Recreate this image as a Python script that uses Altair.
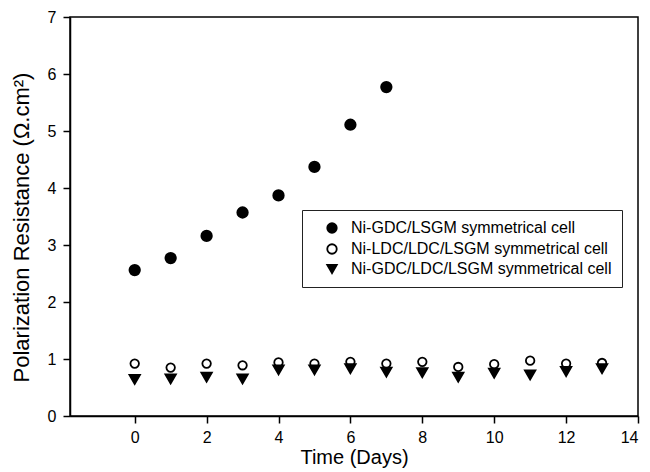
import altair as alt
import pandas as pd

series_names = [
    "Ni-GDC/LSGM symmetrical cell",
    "Ni-LDC/LDC/LSGM symmetrical cell",
    "Ni-GDC/LDC/LSGM symmetrical cell",
]

days_gdc = [0, 1, 2, 3, 4, 5, 6, 7]
res_gdc = [2.56, 2.77, 3.16, 3.57, 3.87, 4.37, 5.11, 5.77]

days_all = [0, 1, 2, 3, 4, 5, 6, 7, 8, 9, 10, 11, 12, 13]
res_ldc = [0.92, 0.85, 0.92, 0.89, 0.94, 0.92, 0.95, 0.92, 0.95, 0.86, 0.91, 0.97, 0.92, 0.93]
res_gdc_ldc = [0.64, 0.65, 0.68, 0.65, 0.81, 0.81, 0.83, 0.77, 0.76, 0.68, 0.75, 0.72, 0.78, 0.83]

x_ticks = [0, 2, 4, 6, 8, 10, 12, 14]
y_ticks = [0, 1, 2, 3, 4, 5, 6, 7]

rows = []
for d, r in zip(days_gdc, res_gdc):
    rows.append({"day": d, "resistance": r, "series": series_names[0]})
for d, r in zip(days_all, res_ldc):
    rows.append({"day": d, "resistance": r, "series": series_names[1]})
for d, r in zip(days_all, res_gdc_ldc):
    rows.append({"day": d, "resistance": r, "series": series_names[2]})
df = pd.DataFrame(rows)

FONT = "Liberation Sans"

leg = alt.Legend(
    title=None,
    orient="none",
    legendX=232,
    legendY=193,
    strokeColor="#222222",
    fillColor="white",
    padding=10,
    symbolOffset=12,
    labelOffset=11,
    rowPadding=3,
    symbolSize=90,
    labelFont=FONT,
    labelFontSize=16,
    labelColor="black",
    labelLimit=500,
    symbolStrokeWidth=1.8,
)

marker_sizes = [110, 72, 110]

base = alt.Chart(df).encode(
    x=alt.X(
        "day:Q",
        scale=alt.Scale(domain=[-1.8, 14], nice=False, zero=False),
        axis=alt.Axis(values=x_ticks, title="Time (Days)", grid=False,
                      tickSize=7, labelPadding=6, titlePadding=2,
                      titleFontSize=20),
    ),
    y=alt.Y(
        "resistance:Q",
        scale=alt.Scale(domain=[0, 7], nice=False),
        axis=alt.Axis(values=y_ticks, title="Polarization Resistance (Ω.cm²)",
                      grid=False, tickSize=7, labelPadding=7, titlePadding=14,
                      titleFontSize=22, titleY=210),
    ),
    shape=alt.Shape("series:N",
                    scale=alt.Scale(domain=series_names,
                                    range=["circle", "circle", "triangle-down"]),
                    legend=leg),
    fill=alt.Fill("series:N",
                  scale=alt.Scale(domain=series_names, range=["black", "white", "black"]),
                  legend=leg),
    stroke=alt.Stroke("series:N",
                      scale=alt.Scale(domain=series_names, range=["black", "black", "black"]),
                      legend=leg),
)

layers = [
    base.transform_filter(alt.datum.series == name).mark_point(
        size=s, strokeWidth=1.8, opacity=1
    )
    for name, s in zip(series_names, marker_sizes)
]

chart = (
    alt.layer(*layers)
    .properties(
        width=568,
        height=399,
        autosize=alt.AutoSizeParams(type="none"),
        padding={"left": 62, "top": 9, "right": 4, "bottom": 55},
    )
    .configure_view(stroke="black", strokeWidth=1.5)
    .configure_axis(
        domainColor="black",
        domainWidth=1.5,
        tickColor="black",
        tickWidth=1.5,
        labelFont=FONT,
        labelFontSize=16,
        labelColor="black",
        titleFont=FONT,
        titleFontWeight="normal",
        titleColor="black",
    )
)

chart.save("out.html", embed_options={"renderer": "svg", "actions": False})
